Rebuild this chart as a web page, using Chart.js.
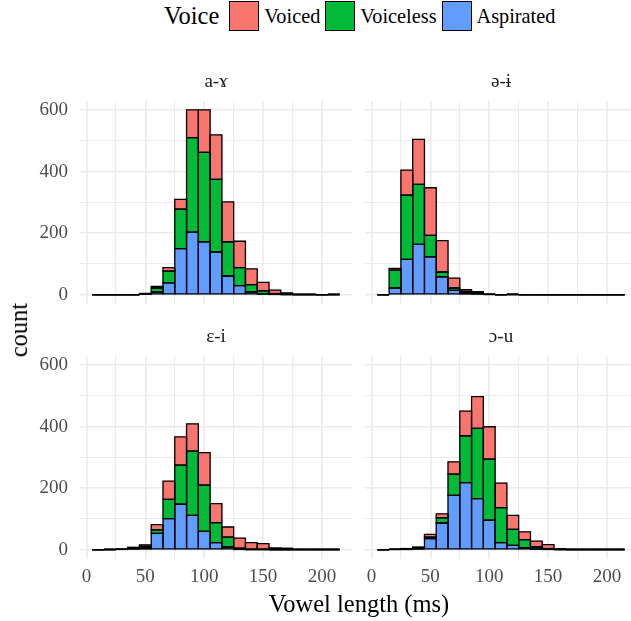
<!DOCTYPE html>
<html>
<head>
<meta charset="utf-8">
<script src="https://cdn.jsdelivr.net/npm/chart.js@4.4.1/dist/chart.umd.min.js"></script>
<style>
  html, body { margin: 0; padding: 0; background: #fff; }
  body {
    width: 631px; height: 621px; position: relative; overflow: hidden;
    font-family: 'Liberation Serif', 'Times New Roman', serif;
  }
  canvas { position: absolute; }
  #legend {
    position: absolute; left: 164px; top: 1px; height: 30px;
    display: flex; align-items: center; white-space: nowrap;
  }
  #legend .title { font-size: 24.5px; margin-right: 10px; }
  #legend .key { width: 28px; height: 28px; border: 1px solid #000; margin-right: 5px; }
  #legend .label { font-size: 20.3px; margin-right: 5px; }
  .axis-title { position: absolute; font-size: 24.5px; color: #000; white-space: nowrap; }
</style>
</head>
<body>

<div id="legend">
  <span class="title">Voice</span>
  <span class="key" style="background:#F8766D"></span><span class="label">Voiced</span>
  <span class="key" style="background:#00BA38"></span><span class="label">Voiceless</span>
  <span class="key" style="background:#619CFF"></span><span class="label">Aspirated</span>
</div>

<canvas id="panel-a" width="342" height="231" style="left:10px; top:73px"></canvas>
<canvas id="panel-e" width="272" height="231" style="left:365px; top:73px"></canvas>
<canvas id="panel-i" width="342" height="276" style="left:10px; top:328px"></canvas>
<canvas id="panel-u" width="272" height="276" style="left:365px; top:328px"></canvas>

<div class="axis-title" style="left:19px; top:330px; transform: translate(-50%, -50%) rotate(-90deg)">count</div>
<div class="axis-title" style="left:359px; top:604px; transform: translate(-50%, -50%)">Vowel length (ms)</div>

<script>
// bin centres (binwidth 10 ms)
const bins = [10, 20, 30, 40, 50, 60, 70, 80, 90, 100, 110, 120, 130, 140, 150, 160, 170, 180, 190, 200, 210];
const binWidth = 10;

const xTicks = [0, 25, 50, 75, 100, 125, 150, 175, 200];
const yTicks = [0, 100, 200, 300, 400, 500, 600];

// a-ɤ
const aAspirated = [0, 0, 0, 0, 2, 9, 39, 150, 204, 172, 139, 61, 30, 9, 2, 1, 0, 0, 0, 0, 0];
const aVoiceless = [0, 0, 0, 0, 2, 13, 38, 128, 307, 291, 236, 111, 58, 24, 11, 3, 1, 0, 0, 0, 0];
const aVoiced    = [0, 0, 0, 0, 1, 5, 11, 32, 90, 138, 145, 130, 86, 51, 27, 11, 5, 2, 1, 0, 2];

// ə-ɨ
const eAspirated = [0, 22, 115, 164, 123, 58, 14, 6, 3, 1, 0, 0, 0, 0, 0, 0, 0, 0, 0, 0, 0];
const eVoiceless = [0, 58, 209, 195, 70, 16, 8, 5, 4, 0, 0, 1, 0, 0, 0, 0, 0, 0, 0, 0, 0];
const eVoiced    = [0, 6, 81, 146, 155, 102, 32, 6, 3, 1, 0, 1, 0, 0, 0, 0, 0, 0, 0, 0, 0];

// ɛ-i
const iAspirated = [0, 0, 1, 3, 6, 53, 101, 148, 112, 60, 23, 9, 1, 0, 0, 0, 0, 0, 0, 0, 0];
const iVoiceless = [0, 0, 1, 2, 5, 12, 63, 127, 209, 150, 65, 32, 4, 1, 1, 0, 0, 0, 0, 0, 0];
const iVoiced    = [0, 1, 1, 3, 5, 17, 59, 92, 88, 106, 62, 33, 33, 22, 19, 6, 5, 3, 1, 1, 1];

// ɔ-u
const uAspirated = [0, 1, 1, 3, 36, 87, 177, 218, 166, 96, 23, 14, 7, 2, 1, 0, 0, 0, 0, 0, 0];
const uVoiceless = [0, 0, 1, 3, 5, 17, 69, 152, 229, 199, 114, 52, 26, 7, 3, 1, 0, 0, 0, 0, 0];
const uVoiced    = [0, 1, 2, 3, 9, 13, 40, 81, 103, 105, 80, 46, 25, 19, 13, 2, 2, 1, 1, 1, 1];

const voiceNames = ['Aspirated', 'Voiceless', 'Voiced'];
const voiceColors = ['#619CFF', '#00BA38', '#F8766D'];

const serif = "'Liberation Serif', 'Times New Roman', serif";

// outline every bar segment like ggplot (stroke centred on the edges, zero bins become a baseline)
const outlinePlugin = {
    id: 'barOutline',
    afterDatasetsDraw(chart) {
        const ctx = chart.ctx;
        ctx.save();
        ctx.strokeStyle = '#000';
        ctx.lineWidth = 1.3;
        chart.data.datasets.forEach((ds, i) => {
            chart.getDatasetMeta(i).data.forEach(bar => {
                const { x, y, base, width } = bar.getProps(['x', 'y', 'base', 'width'], true);
                const left = x - width / 2;
                const top = Math.min(y, base);
                const h = Math.abs(base - y);
                ctx.beginPath();
                if (h < 0.5) {
                    ctx.moveTo(left, base);
                    ctx.lineTo(left + width, base);
                } else {
                    ctx.rect(left, top, width, h);
                }
                ctx.stroke();
            });
        });
        ctx.restore();
    }
};

function makePanel(id, label, series, showX, showY) {
    const ctx = document.getElementById(id).getContext('2d');
    return new Chart(ctx, {
        type: 'bar',
        data: {
            datasets: series.map((values, k) => ({
                label: voiceNames[k],
                data: values.map((v, i) => ({ x: bins[i], y: v })),
                backgroundColor: voiceColors[k],
                borderWidth: 0,
                barPercentage: 1,
                categoryPercentage: 1,
            })),
        },
        options: {
            responsive: false,
            animation: false,
            layout: { padding: 0 },
            plugins: {
                legend: { display: false },
                tooltip: { enabled: false },
                title: {
                    display: true,
                    text: label,
                    fullSize: false,
                    color: '#1A1A1A',
                    font: { family: serif, size: 19, weight: 'normal', lineHeight: 1 },
                    padding: { top: 0, bottom: 9 },
                },
            },
            scales: {
                x: {
                    type: 'linear',
                    min: bins[0] - binWidth / 2 - 10.5,
                    max: bins[bins.length - 1] + binWidth / 2 + 10.5,
                    offset: false,
                    stacked: true,
                    border: { display: false },
                    grid: {
                        offset: false,
                        drawTicks: false,
                        color: '#EBEBEB',
                        lineWidth: c => (c.tick && c.tick.value % 50 === 0) ? 1.6 : 1.1,
                    },
                    ticks: {
                        display: showX,
                        autoSkip: false,
                        maxRotation: 0,
                        padding: 7,
                        color: '#4D4D4D',
                        font: { family: serif, size: 19 },
                        callback: v => v % 50 === 0 ? v : '',
                    },
                    afterBuildTicks: s => { s.ticks = xTicks.map(v => ({ value: v })); },
                    afterFit: s => {
                        s.height = showX ? 45 : 0;
                        s.paddingLeft = 0;
                        s.paddingRight = 0;
                    },
                },
                y: {
                    min: -30,
                    max: 630,
                    stacked: true,
                    border: { display: false },
                    grid: {
                        drawTicks: false,
                        color: '#EBEBEB',
                        lineWidth: c => (c.tick && c.tick.value % 200 === 0) ? 1.6 : 1.1,
                    },
                    ticks: {
                        display: showY,
                        padding: 12,
                        color: '#4D4D4D',
                        font: { family: serif, size: 19 },
                        callback: v => v % 200 === 0 ? v : '',
                    },
                    afterBuildTicks: s => { s.ticks = yTicks.map(v => ({ value: v })); },
                    afterFit: s => {
                        s.width = showY ? 70 : 0;
                        s.paddingTop = 0;
                        s.paddingBottom = 0;
                    },
                },
            },
        },
        plugins: [outlinePlugin],
    });
}

function drawAll() {
    makePanel('panel-a', 'a-ɤ', [aAspirated, aVoiceless, aVoiced], false, true);
    makePanel('panel-e', 'ə-ɨ', [eAspirated, eVoiceless, eVoiced], false, false);
    makePanel('panel-i', 'ɛ-i', [iAspirated, iVoiceless, iVoiced], true, true);
    makePanel('panel-u', 'ɔ-u', [uAspirated, uVoiceless, uVoiced], true, false);
}

// make sure the serif face is ready before the canvases draw text
Promise.all([
    document.fonts.load('19px "Liberation Serif"', 'a-ɤə-ɨɛ-iɔ-u0123456789'),
    document.fonts.load('normal 19px "Liberation Serif"')
]).then(drawAll, drawAll);
</script>
</body>
</html>
